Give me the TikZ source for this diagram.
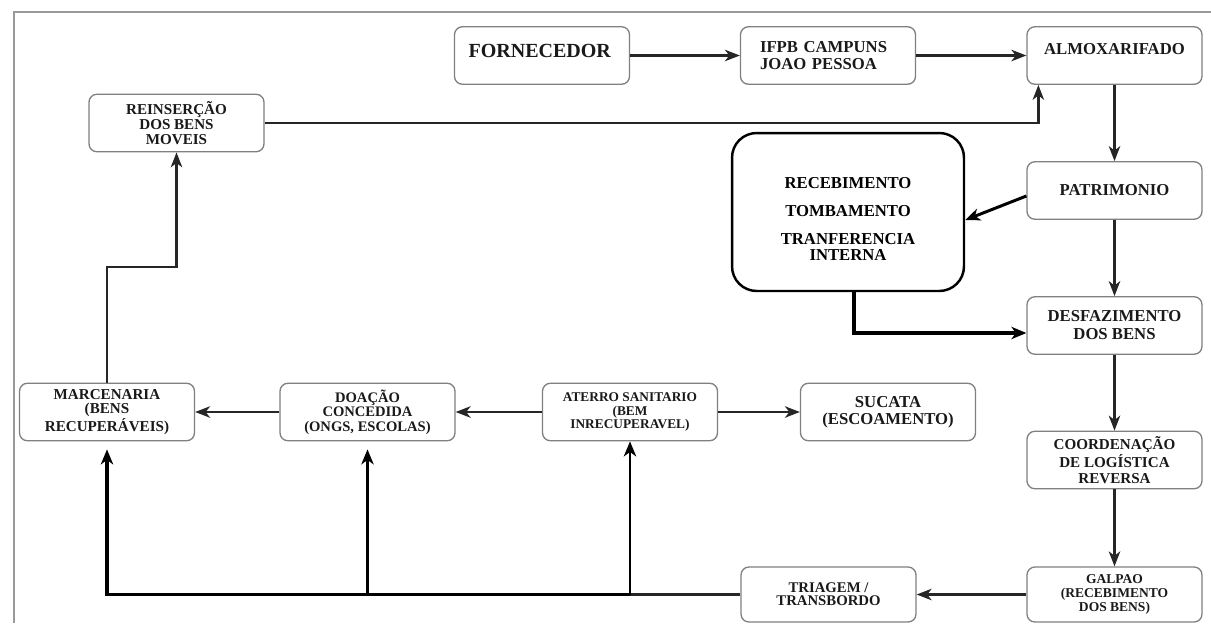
\documentclass[tikz,border=0pt]{standalone}
\usepackage{fontspec}
\setmainfont{Liberation Serif}
\usetikzlibrary{arrows.meta, positioning, calc}

\newcommand{\fsz}[1]{\fontsize{#1}{#1}\selectfont\bfseries}

\tikzset{
    box/.style={draw=black!50, line width=0.75pt, rounded corners=4.5pt,
        minimum width=3.5cm, minimum height=1.15cm, align=center, inner sep=0pt,
        text=black!90},
    bigbox/.style={draw=black, line width=1.4pt, rounded corners=14pt,
        minimum width=4.64cm, minimum height=3.16cm, align=center, inner sep=0pt},
    conn/.style={draw=black!85, line width=1.3pt, -{Stealth[length=8.5pt, width=6.5pt, inset=2.5pt]}},
    heavy/.style={draw=black, line width=2.1pt, -{Stealth[length=8.5pt, width=7pt, inset=2.5pt]}},
    frameline/.style={draw=black!40, line width=0.6pt}
}

\begin{document}
\begin{tikzpicture}[x=0.02cm, y=-0.02cm]
\useasboundingbox (0,0) rectangle (1211,623);

% Frame
\draw[frameline] (14,623) -- (14,12) -- (1211,12);

% Top row
\node[box, font=\fsz{11.4}, align=left, text width=2.94cm, inner xsep=0.28cm,
      text height=7.5pt, text depth=5.1pt] (forn) at (542,55.5) {FORNECEDOR};
\node[box, font=\fsz{9.5}, align=left, text width=2.72cm, inner xsep=0.39cm] (ifpb) at (828,55.5) {IFPB CAMPUNS\\JOAO PESSOA};
\node[box, font=\fsz{9.5}, text height=6.5pt, text depth=7.6pt] (almox) at (1114.5,55.5) {ALMOXARIFADO};
\node[box, font=\fsz{8.6}] (reins) at (176.5,123) {REINSERÇÃO\\DOS BENS\\MOVEIS};

% Right column
\node[box, font=\fsz{9.5}] (patr) at (1114.5,190.5) {PATRIMONIO};
\node[bigbox, font=\fsz{9.5}] (big) at (848,212)
    {\rule{0pt}{14.5pt}RECEBIMENTO\\[6.5pt]TOMBAMENTO\\[6pt]TRANFERENCIA\\INTERNA};
\node[box, font=\fontsize{9.5}{10.2}\selectfont\bfseries] (desf) at (1114.5,325.5) {DESFAZIMENTO\\DOS BENS};
\node[box, font=\fontsize{8.6}{8.9}\selectfont\bfseries] (coord) at (1114.5,460) {COORDENAÇÃO\\DE LOGÍSTICA\\REVERSA};
\node[box, font=\fontsize{7.7}{8.2}\selectfont\bfseries, minimum height=1.1cm] (galpao) at (1114.5,594.5) {GALPAO\\(RECEBIMENTO\\DOS BENS)};
\node[box, font=\fontsize{8.4}{7.4}\selectfont\bfseries, minimum height=1.1cm] (triagem) at (828.5,594.5) {TRIAGEM /\\TRANSBORDO};

% Middle row
\node[box, font=\fontsize{9.5}{9.7}\selectfont\bfseries] (sucata) at (888,412) {SUCATA\\(ESCOAMENTO)};
\node[box, font=\fontsize{7.6}{7.6}\selectfont\bfseries] (aterro) at (630,412) {ATERRO SANITARIO\\(BEM\\INRECUPERAVEL)};
\node[box, font=\fontsize{8.3}{8.3}\selectfont\bfseries] (doacao) at (367.5,412) {DOAÇÃO\\CONCEDIDA\\(ONGS, ESCOLAS)};
\node[box, font=\fontsize{8.6}{8.4}\selectfont\bfseries] (marc) at (107,412) {MARCENARIA\\(BENS\\RECUPERÁVEIS)};

% Flow
\draw[conn] (forn) -- (ifpb);
\draw[conn] (ifpb) -- (almox);
\draw[conn] (almox) -- (patr);
\draw[heavy, line width=1.7pt] ([yshift=-0.11cm]patr.west) -- ([yshift=-0.16cm]big.east);
\draw[conn] (patr) -- (desf);
\draw[heavy] ([xshift=0.12cm]big.south) |- ([yshift=-0.15cm]desf.west);
\draw[conn] (desf) -- (coord);
\draw[conn] (coord) -- (galpao);
\draw[conn] (galpao) -- (triagem);

% Sorting branches
\coordinate (split) at (aterro.south |- triagem.west);
\draw[conn, -] (triagem.west) -- (split);
\draw[heavy, line width=1.7pt] (split) -- (aterro.south);
\draw[heavy, shorten >=0.16cm] (split) -| (marc.south);
\draw[heavy, shorten >=0.16cm] (doacao.south |- split) -- (doacao.south);
\draw[conn] (aterro) -- (sucata);
\draw[conn] (aterro) -- (doacao);
\draw[conn] (doacao) -- (marc);

% Return loop
\coordinate (jog) at (107,267);
\draw[conn] (marc.north) -- (marc.north |- jog) -| (reins.south);
\draw[conn] (reins.east) -| ([xshift=0.24cm]almox.south west);

\end{tikzpicture}
\end{document}
